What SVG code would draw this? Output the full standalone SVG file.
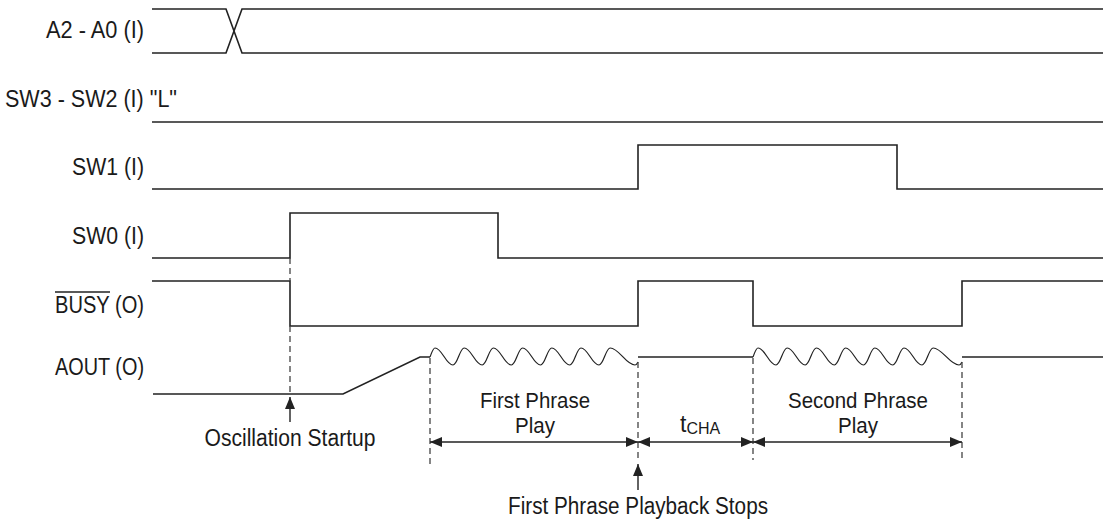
<svg xmlns="http://www.w3.org/2000/svg" width="1103" height="526" viewBox="0 0 1103 526">
<style>
.bg{fill:#fff}
.sig{fill:none;stroke:#222;stroke-width:1.6;stroke-linejoin:miter}
.wave{fill:none;stroke:#222;stroke-width:1.2}
.dash{fill:none;stroke:#444;stroke-width:1.3;stroke-dasharray:6,4}
.dim{fill:none;stroke:#222;stroke-width:1.4}
text{font-family:"Liberation Sans Narrow","Liberation Sans",Arial,sans-serif;font-size:23px;fill:#1a1a1a}
.lbl{text-anchor:end}
.mid{text-anchor:middle}
.ph{font-size:22px}
</style>
<defs>
<marker id="ah" viewBox="0 0 12 10" refX="12" refY="5" markerWidth="12" markerHeight="10" markerUnits="userSpaceOnUse" orient="auto-start-reverse">
<path d="M0,0 L12,5 L0,10 z" fill="#222"/>
</marker>
</defs>
<rect class="bg" width="1103" height="526"/>

<g id="sig-a2a0">
<text class="lbl" x="144" y="38" textLength="98" lengthAdjust="spacingAndGlyphs">A2 - A0 (I)</text>
<path class="sig" d="M152,9 L226,9 L242,53 L1103,53 M152,53 L226,53 L242,9 L1103,9"/>
</g>

<g id="sig-sw3sw2">
<text x="5" y="107" textLength="172" lengthAdjust="spacingAndGlyphs">SW3 - SW2 (I) "L"</text>
<path class="sig" d="M152,122 L1103,122"/>
</g>

<g id="sig-sw1">
<text class="lbl" x="144" y="175" textLength="72" lengthAdjust="spacingAndGlyphs">SW1 (I)</text>
<path class="sig" d="M152,189 L638,189 L638,145 L897,145 L897,189 L1103,189"/>
</g>

<g id="sig-sw0">
<text class="lbl" x="144" y="244" textLength="72" lengthAdjust="spacingAndGlyphs">SW0 (I)</text>
<path class="sig" d="M152,258 L290,258 L290,213 L498,213 L498,258 L1103,258"/>
</g>

<g id="sig-busy">
<text class="lbl" x="144" y="313" textLength="89" lengthAdjust="spacingAndGlyphs">BUSY (O)</text>
<line x1="55" y1="292" x2="110" y2="292" stroke="#222" stroke-width="1.3"/>
<path class="sig" d="M152,281 L290,281 L290,326 L638,326 L638,281 L753,281 L753,326 L962,326 L962,281 L1103,281"/>
</g>

<g id="sig-aout">
<text class="lbl" x="144" y="375" textLength="89" lengthAdjust="spacingAndGlyphs">AOUT (O)</text>
<path class="sig" d="M153,394 L343,394 L420,357 L430,357"/>
<path class="wave" d="M430,357 C432,352 433,348 435,348 C442,348 446,365 453,365 C457.5,365 459.7,348 464.2,348 C471.2,348 475.2,365 482.2,365 C486.7,365 488.9,348 493.4,348 C500.4,348 504.4,365 511.4,365 C515.9,365 518.1,348 522.6,348 C529.6,348 533.6,365 540.6,365 C545.1,365 547.3,348 551.8,348 C558.8,348 562.8,365 569.8,365 C574.3,365 576.5,348 581,348 C588,348 592,365 599,365 C603.5,365 605.7,348 610.2,348 C619,348 626,365 635,365 C636.5,365 637.5,363 638,362"/>
<path class="sig" d="M638,357 L753,357"/>
<path class="wave" d="M753,357 C755,352 756,348 758,348 C765,348 769,365 776,365 C780.5,365 782.7,348 787.2,348 C794.2,348 798.2,365 805.2,365 C809.7,365 811.9,348 816.4,348 C823.4,348 827.4,365 834.4,365 C838.9,365 841.1,348 845.6,348 C852.6,348 856.6,365 863.6,365 C868.1,365 870.3,348 874.8,348 C881.8,348 885.8,365 892.8,365 C897.3,365 899.5,348 904,348 C911,348 915,365 922,365 C926.5,365 928.7,348 933.2,348 C942,348 950,365 959,365 C960.5,365 961.5,363 962,362"/>
<path class="sig" d="M962,357 L1103,357"/>
</g>

<g id="connectors">
<path class="dash" d="M290,258 L290,281 M290,326 L290,394"/>
<path class="dash" d="M430,358 L430,464"/>
<path class="dash" d="M638,362 L638,460"/>
<path class="dash" d="M753,358 L753,460"/>
<path class="dash" d="M962,362 L962,462"/>
<line class="dim" x1="290" y1="422" x2="290" y2="397" marker-end="url(#ah)"/>
<line class="dim" x1="638" y1="490" x2="638" y2="464" marker-end="url(#ah)"/>
<line class="dim" x1="430" y1="442" x2="638" y2="442" marker-start="url(#ah)" marker-end="url(#ah)"/>
<line class="dim" x1="638" y1="442" x2="753" y2="442" marker-start="url(#ah)" marker-end="url(#ah)"/>
<line class="dim" x1="753" y1="442" x2="962" y2="442" marker-start="url(#ah)" marker-end="url(#ah)"/>
</g>

<g id="annotations">
<text class="mid" x="290" y="446" textLength="171" lengthAdjust="spacingAndGlyphs">Oscillation Startup</text>
<text class="mid ph" x="535" y="408" textLength="110" lengthAdjust="spacingAndGlyphs">First Phrase</text>
<text class="mid ph" x="535" y="433" textLength="40" lengthAdjust="spacingAndGlyphs">Play</text>
<text x="680" y="432">t<tspan font-size="16" dy="2">CHA</tspan></text>
<text class="mid ph" x="858" y="408" textLength="140" lengthAdjust="spacingAndGlyphs">Second Phrase</text>
<text class="mid ph" x="858" y="433" textLength="40" lengthAdjust="spacingAndGlyphs">Play</text>
<text class="mid" x="638" y="514" textLength="260" lengthAdjust="spacingAndGlyphs">First Phrase Playback Stops</text>
</g>
</svg>
